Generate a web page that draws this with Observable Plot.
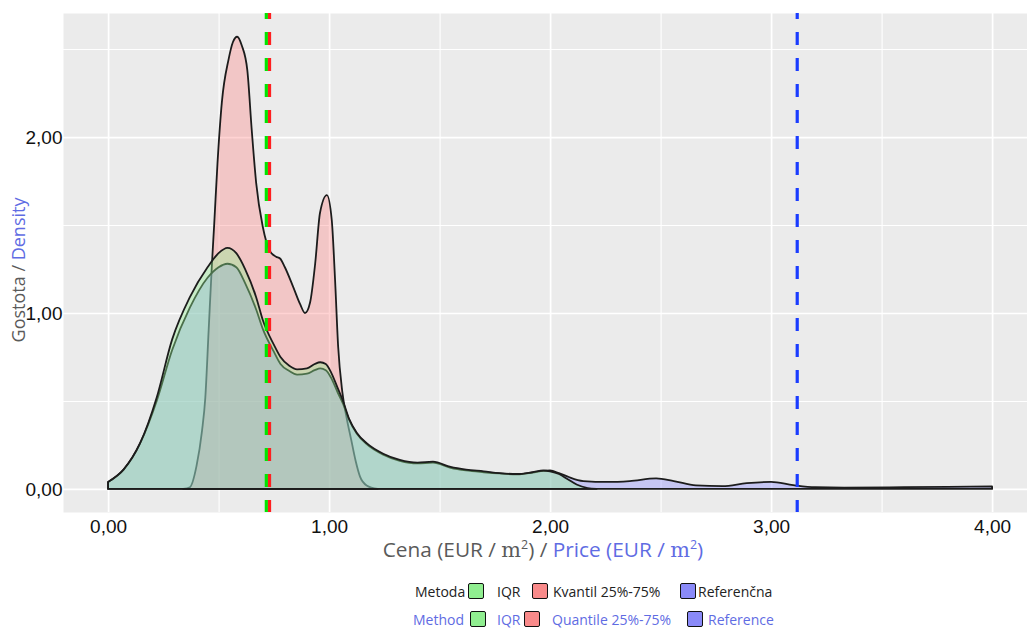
<!DOCTYPE html>
<html><head><meta charset="utf-8">
<script src="https://cdn.jsdelivr.net/npm/d3@7"></script>
<script src="https://cdn.jsdelivr.net/npm/@observablehq/plot@0.6"></script>
<style>
body{margin:0;background:#fff;}
#wrap{position:relative;width:1027px;height:628px;overflow:hidden;font-family:"Open Sans",sans-serif;}
#wrap svg{position:absolute;left:0;top:0;}
.abs{position:absolute;white-space:nowrap;line-height:1;}
.abs sup{line-height:0;font-size:12px;}
.blue{color:#5f6ce3;}
.gray{color:#5a5a5a;}
.serif{font-family:"DejaVu Serif","Liberation Serif",serif;}
.key{position:absolute;width:14px;height:14px;border:1.5px solid #111;border-radius:2px;}
.lg{position:absolute;font-size:14px;white-space:nowrap;transform:translateY(-50%);}
</style></head><body><div id="wrap"></div>
<script>
// ----- data -----
const xTicks = [0, 1, 2, 3, 4];
const xMinor = [0.5, 1.5, 2.5, 3.5];
const yTicks = [0, 1, 2];
const yMinor = [0.5, 1.5, 2.5];
const tickLabel = d => d.toFixed(2).replace(".", ",");

// Kvantil 25%-75%
const kvX = [0.34,0.37,0.40,0.425,0.44,0.455,0.47,0.48,0.495,0.515,0.545,0.565,0.584,0.605,0.63,0.65,0.67,0.70,0.733,0.76,0.778,0.80,0.837,0.869,0.891,0.914,0.937,0.959,0.99,1.012,1.027,1.041,1.06,1.08,1.10,1.12,1.14,1.17,1.22];
const kvY = [0,0.01,0.13,0.33,0.52,0.9,1.28,1.5,1.85,2.2,2.44,2.54,2.57,2.52,2.38,2.04,1.74,1.49,1.35,1.32,1.31,1.26,1.15,1.05,1.0,1.06,1.28,1.57,1.67,1.53,1.19,0.81,0.55,0.40,0.28,0.16,0.07,0.02,0];

// IQR
const iqrX = [0,0.07,0.145,0.22,0.29,0.37,0.45,0.5,0.54,0.58,0.62,0.67,0.70,0.75,0.78,0.82,0.855,0.9,0.935,0.96,0.985,1.01,1.04,1.063,1.09,1.125,1.17,1.245,1.32,1.40,1.47,1.55,1.62,1.70,1.77,1.85,1.92,1.97,2.0,2.04,2.08,2.12,2.17,2.21];
const iqrY = [0.04,0.11,0.26,0.52,0.85,1.09,1.26,1.34,1.37,1.34,1.25,1.09,0.96,0.82,0.75,0.70,0.68,0.685,0.71,0.72,0.71,0.66,0.57,0.50,0.40,0.32,0.26,0.20,0.165,0.15,0.155,0.125,0.11,0.10,0.09,0.085,0.095,0.105,0.10,0.085,0.055,0.025,0.005,0];

// Referenčna
const refX = [0,0.07,0.145,0.22,0.29,0.37,0.45,0.5,0.54,0.58,0.62,0.67,0.70,0.75,0.78,0.82,0.855,0.9,0.935,0.96,0.985,1.01,1.04,1.063,1.09,1.125,1.17,1.245,1.32,1.40,1.47,1.55,1.62,1.70,1.77,1.85,1.92,1.97,2.0,2.04,2.08,2.15,2.26,2.36,2.48,2.56,2.66,2.78,2.89,3.0,3.1,3.2,3.33,3.6,3.8,4.0];
const refY = [0.04,0.11,0.26,0.50,0.79,1.03,1.20,1.26,1.28,1.26,1.17,1.02,0.91,0.78,0.71,0.67,0.65,0.655,0.675,0.685,0.675,0.63,0.545,0.485,0.395,0.315,0.255,0.195,0.16,0.145,0.15,0.12,0.105,0.095,0.088,0.083,0.093,0.103,0.105,0.09,0.07,0.045,0.04,0.045,0.06,0.045,0.02,0.016,0.033,0.04,0.022,0.01,0.008,0.01,0.012,0.014];

const centerLine = [0.721];   // IQR / Kvantil
const refLine = [3.116];      // Referenčna

const kv = kvX.map((x, i) => ({x, y: kvY[i]}));
const iqr = iqrX.map((x, i) => ({x, y: iqrY[i]}));
const ref = refX.map((x, i) => ({x, y: refY[i]}));

const areaOpts = {x: "x", y: "y", stroke: "#1c1c1c", strokeWidth: 1.8, curve: "monotone-x"};
const dash = {strokeWidth: 3.2, strokeDasharray: "13,13", strokeDashoffset: 7};

const chart = Plot.plot({
  width: 1027, height: 540,
  marginLeft: 63, marginRight: 0, marginTop: 13, marginBottom: 28,
  x: {domain: [-0.204, 4.158]},
  y: {domain: [-0.131, 2.705]},
  style: {fontFamily: '"Liberation Sans", Arial, sans-serif', fontSize: "19px", background: "transparent", color: "#111"},
  marks: [
    Plot.frame({fill: "#EBEBEB", stroke: null}),
    Plot.ruleX(xMinor, {stroke: "white", strokeWidth: 1.1}),
    Plot.ruleY(yMinor, {stroke: "white", strokeWidth: 1.1}),
    Plot.ruleX(xTicks, {stroke: "white", strokeWidth: 1.7}),
    Plot.ruleY(yTicks, {stroke: "white", strokeWidth: 1.7}),
    Plot.areaY(kv, {...areaOpts, fill: "#FF8080", fillOpacity: 0.35}),
    Plot.areaY(ref, {...areaOpts, fill: "#8080FF", fillOpacity: 0.35}),
    Plot.areaY(iqr, {...areaOpts, fill: "#90EE90", fillOpacity: 0.4}),
    Plot.ruleX(centerLine, {...dash, stroke: "#00e600", dx: -1.6}),
    Plot.ruleX(centerLine, {...dash, stroke: "#ff1f1f", dx: 1.6}),
    Plot.ruleX(refLine, {...dash, stroke: "#1a3cff"}),
    Plot.axisX({ticks: xTicks, tickFormat: tickLabel, tickSize: 0, tickPadding: 7, fontSize: 19, label: null}),
    Plot.axisY({ticks: yTicks, tickFormat: tickLabel, tickSize: 0, tickPadding: 1, fontSize: 19, label: null})
  ]
});

const wrap = document.getElementById("wrap");
wrap.appendChild(chart);

function add(html, cls, style) {
  const el = document.createElement("div");
  el.className = cls;
  el.innerHTML = html;
  Object.assign(el.style, style);
  wrap.appendChild(el);
  return el;
}
// axis titles
add('<span class="gray">Gostota / </span><span class="blue">Density</span>', "abs",
  {left: "18px", top: "270px", fontSize: "18px", transform: "translate(-50%,-50%) rotate(-90deg)"});
add('<span class="gray">Cena (EUR / <span class="serif">m</span><sup>2</sup>) / </span><span class="blue">Price (EUR / <span class="serif">m</span><sup>2</sup>)</span>', "abs",
  {left: "543px", top: "550px", fontSize: "20px", transform: "translate(-50%,-50%) scaleX(1.04)"});

// legend
const legendRows = [
  {y: 591, color: "#222", items: [["Metoda", 415], ["IQR", 497], ["Kvantil 25%-75%", 553], ["Referenčna", 698]], keys: [468, 532, 680]},
  {y: 619, color: "#5f6ce3", items: [["Method", 413], ["IQR", 497], ["Quantile 25%-75%", 552], ["Reference", 708]], keys: [470, 524, 687]}
];
const keyColors = ["#90EE90", "#F98A8A", "#8A8AF8"];
legendRows.forEach(r => {
  r.items.forEach(([t, x]) => add(t, "lg", {left: x + "px", top: r.y + "px", color: r.color}));
  r.keys.forEach((x, i) => add("", "key", {left: x + "px", top: (r.y - 8.5) + "px", background: keyColors[i]}));
});
</script>
</body></html>
